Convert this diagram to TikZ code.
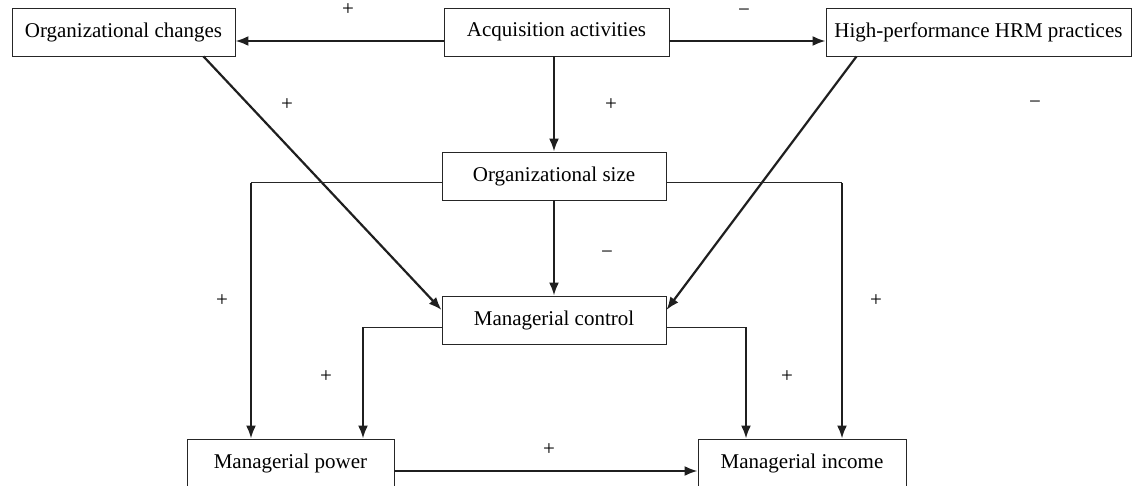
\documentclass[tikz,border=0pt]{standalone}
\usepackage{fontspec}
\setmainfont{Liberation Serif}
\usepackage{tikz}
\usetikzlibrary{arrows.meta,positioning}

\begin{document}
\begin{tikzpicture}[x=1pt, y=-1pt,
    box/.style={draw=black!85, line width=0.9pt, minimum height=48pt, inner sep=0pt, font=\fontsize{21}{25}\selectfont},
    sign/.style={inner sep=0pt, font=\fontsize{21}{25}\selectfont},
    arrow/.style={->, line width=2.2pt, draw=black!88},
    thinline/.style={line width=1pt, draw=black!85},
    >={Latex[length=13pt,width=10pt]}]
    \useasboundingbox (0,0) rectangle (1132,486);

    \node[box, minimum width=223pt] (changes) at (123.5,32) {Organizational changes};
    \node[box, minimum width=225pt] (acq) at (556.5,32) {Acquisition activities};
    \node[box, minimum width=305pt] (hrm) at (978.5,32) {High-performance HRM practices};
    \node[box, minimum width=224pt] (size) at (554,176) {Organizational size};
    \node[box, minimum width=224pt] (control) at (554,320) {Managerial control};
    \node[box, minimum width=207pt] (power) at (290.5,463) {Managerial power};
    \node[box, minimum width=208pt] (income) at (802,463) {Managerial income};

    % corners of the elbow connectors
    \coordinate (sizeL) at (251,183);
    \coordinate (sizeR) at (842,183);
    \coordinate (ctrlL) at (363,327);
    \coordinate (ctrlR) at (746,327);

    \draw[arrow] ([yshift=-9pt]acq.west) -- ([yshift=-9pt]changes.east);
    \draw[arrow] ([yshift=-9pt]acq.east) -- ([yshift=-9pt]hrm.west);
    \draw[arrow] (size.north |- acq.south) -- (size.north);
    \draw[arrow] ([xshift=80pt]changes.south) -- ([yshift=10pt]control.west);
    \draw[arrow] ([xshift=-122pt]hrm.south) -- ([yshift=10pt]control.east);
    \draw[arrow] (size.south) -- (control.north);

    \draw[thinline] (sizeL -| size.west) -- (sizeL);
    \draw[arrow] (sizeL) -- (sizeL |- power.north);
    \draw[thinline] (sizeR -| size.east) -- (sizeR);
    \draw[arrow] (sizeR) -- (sizeR |- income.north);
    \draw[thinline] (ctrlL -| control.west) -- (ctrlL);
    \draw[arrow] (ctrlL) -- (ctrlL |- power.north);
    \draw[thinline] (ctrlR -| control.east) -- (ctrlR);
    \draw[arrow] (ctrlR) -- (ctrlR |- income.north);

    \draw[arrow] ([yshift=-8pt]power.east) -- ([yshift=-8pt]income.west);

    % signs
    \node[sign] (sChanges) at (348,10) {+};
    \node[sign] (sHrm) at (744,13) {−};
    \node[sign] (sChgCtrl) at (287,105) {+};
    \node[sign] (sAcqSize) at (611,105) {+};
    \node[sign] (sHrmCtrl) at (1035,105) {−};
    \node[sign] (sSizeCtrl) at (607,255) {−};
    \node[sign] (sSizePow) at (222,301) {+};
    \node[sign] (sSizeInc) at (876,301) {+};
    \node[sign] (sCtrlPow) at (326,377) {+};
    \node[sign] (sCtrlInc) at (787,377) {+};
    \node[sign] (sPowInc) at (549,450) {+};
\end{tikzpicture}
\end{document}
